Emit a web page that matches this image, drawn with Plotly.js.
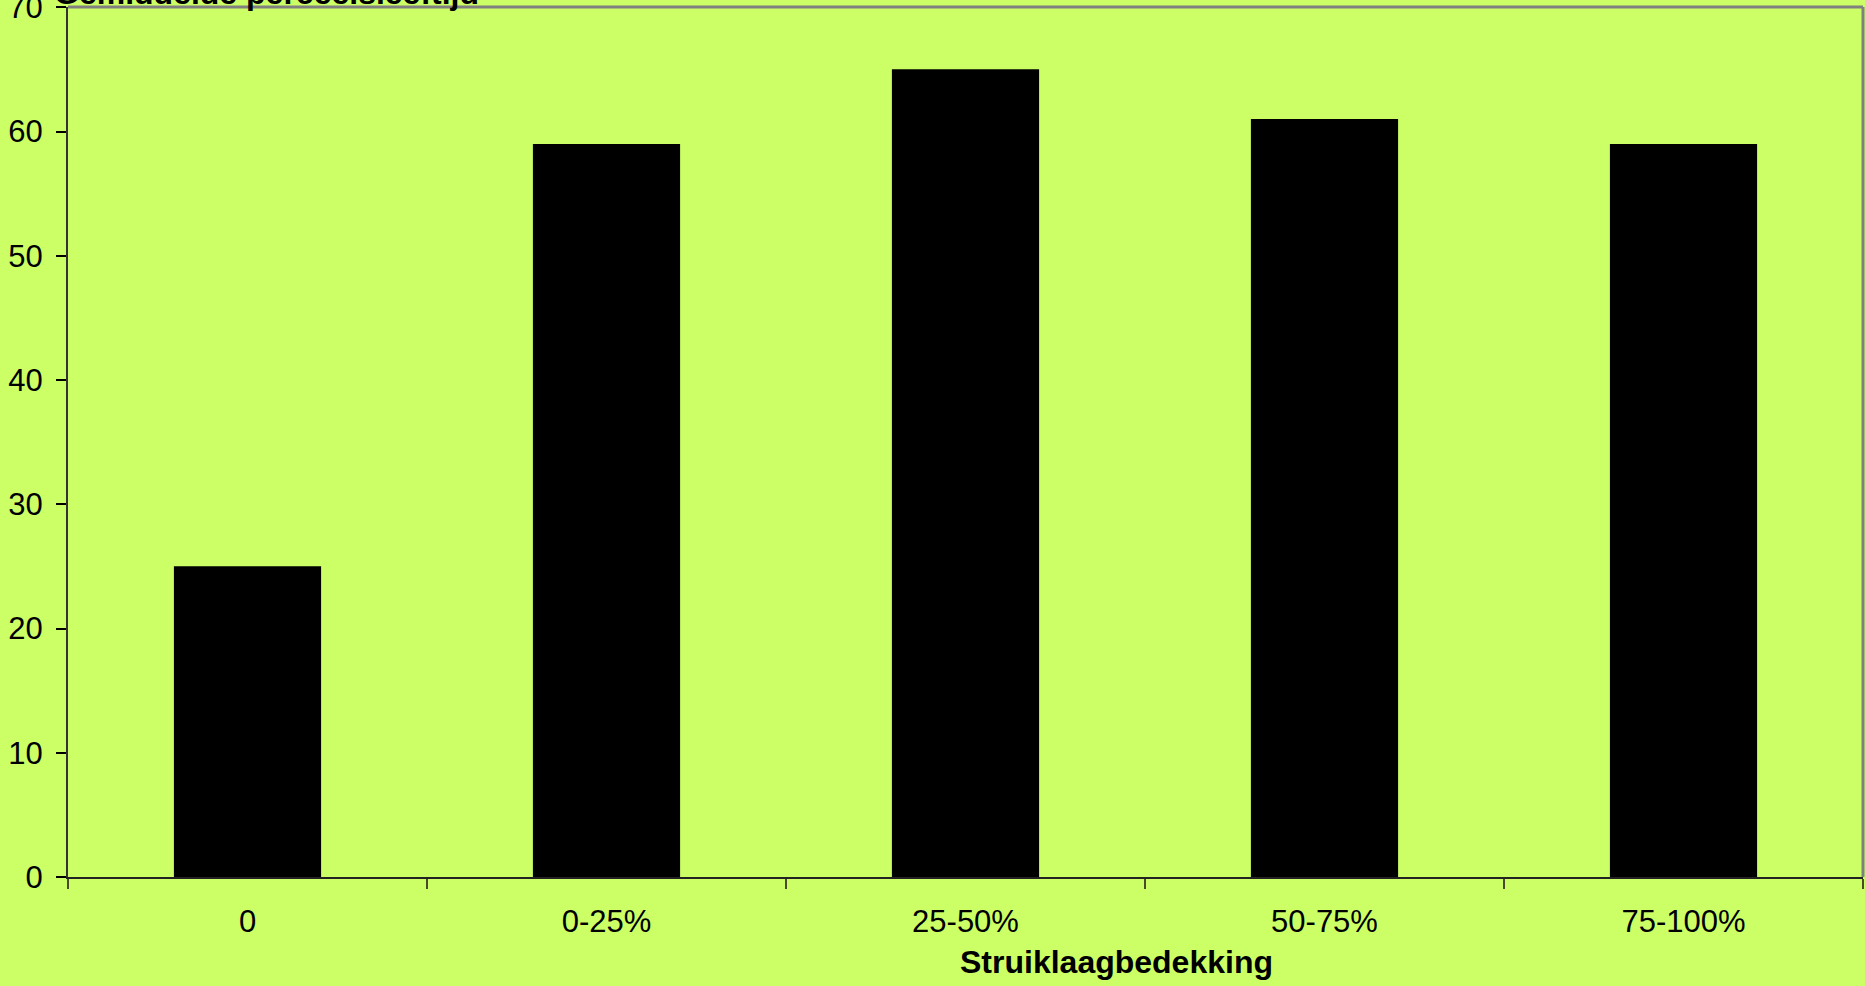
<!DOCTYPE html>
<html>
<head>
<meta charset="utf-8">
<script src="https://cdn.plot.ly/plotly-3.0.1.min.js"></script>
<style>
  html, body { margin: 0; padding: 0; background: #CCFF66; }
  #chart { width: 1865px; height: 986px; }
</style>
</head>
<body>
<div id="chart"></div>
<script>
const categories = ["0", "0-25%", "25-50%", "50-75%", "75-100%"];
const values = [25, 59, 65, 61, 59];
const yTicks = [0, 10, 20, 30, 40, 50, 60, 70];
const yTitle = "Gemiddelde perceelsleeftijd";
const xTitle = "Struiklaagbedekking";

const W = 1865, H = 986;
const M = { l: 68, r: 2, t: 7, b: 109 };
const plotW = W - M.l - M.r;
const FONT = "Liberation Sans, Arial, sans-serif";

const trace = {
  type: "bar",
  x: categories,
  y: values,
  marker: { color: "#000000", line: { width: 0 } },
  hoverinfo: "x+y",
  cliponaxis: false
};

const layout = {
  width: W,
  height: H,
  margin: M,
  paper_bgcolor: "#CCFF66",
  plot_bgcolor: "#CCFF66",
  showlegend: false,
  bargap: 0.59,
  font: { family: FONT, color: "#000000", size: 31 },
  xaxis: {
    type: "category",
    showgrid: false,
    zeroline: false,
    showline: true,
    linecolor: "#222222",
    linewidth: 2,
    ticks: "outside",
    tickson: "boundaries",
    ticklen: 10,
    tickcolor: "#4a4a2a",
    tickwidth: 2,
    ticklabelstandoff: 16,
    tickfont: { family: FONT, size: 31, color: "#000000" }
  },
  yaxis: {
    range: [0, 70.02],
    tickmode: "array",
    tickvals: yTicks,
    ticktext: yTicks.map(String),
    ticklabeloverflow: "allow",
    showgrid: false,
    zeroline: false,
    showline: true,
    linecolor: "#333333",
    linewidth: 2,
    ticks: "outside",
    ticklen: 10,
    tickcolor: "#000000",
    tickwidth: 2,
    ticklabelstandoff: 7,
    tickfont: { family: FONT, size: 31, color: "#000000" }
  },
  shapes: [
    { type: "line", xref: "paper", yref: "paper", x0: 0, x1: 1, y0: 1, y1: 1,
      line: { color: "#808080", width: 3 } },
    { type: "line", xref: "paper", yref: "paper", x0: 1, x1: 1, y0: 0, y1: 1,
      line: { color: "#808080", width: 3 } }
  ],
  annotations: [
    { text: "<b>" + yTitle + "</b>", xref: "paper", yref: "paper",
      x: (52 - M.l) / plotW, y: 1, xanchor: "left", yanchor: "bottom",
      yshift: -6, showarrow: false,
      font: { family: FONT, size: 32, color: "#000000" } },
    { text: "<b>" + xTitle + "</b>", xref: "paper", yref: "paper",
      x: (1116 - M.l) / plotW, y: 0, xanchor: "center", yanchor: "top",
      yshift: -65, showarrow: false,
      font: { family: FONT, size: 32, color: "#000000" } }
  ]
};

Plotly.newPlot("chart", [trace], layout, { displayModeBar: false, staticPlot: true });
</script>
</body>
</html>
